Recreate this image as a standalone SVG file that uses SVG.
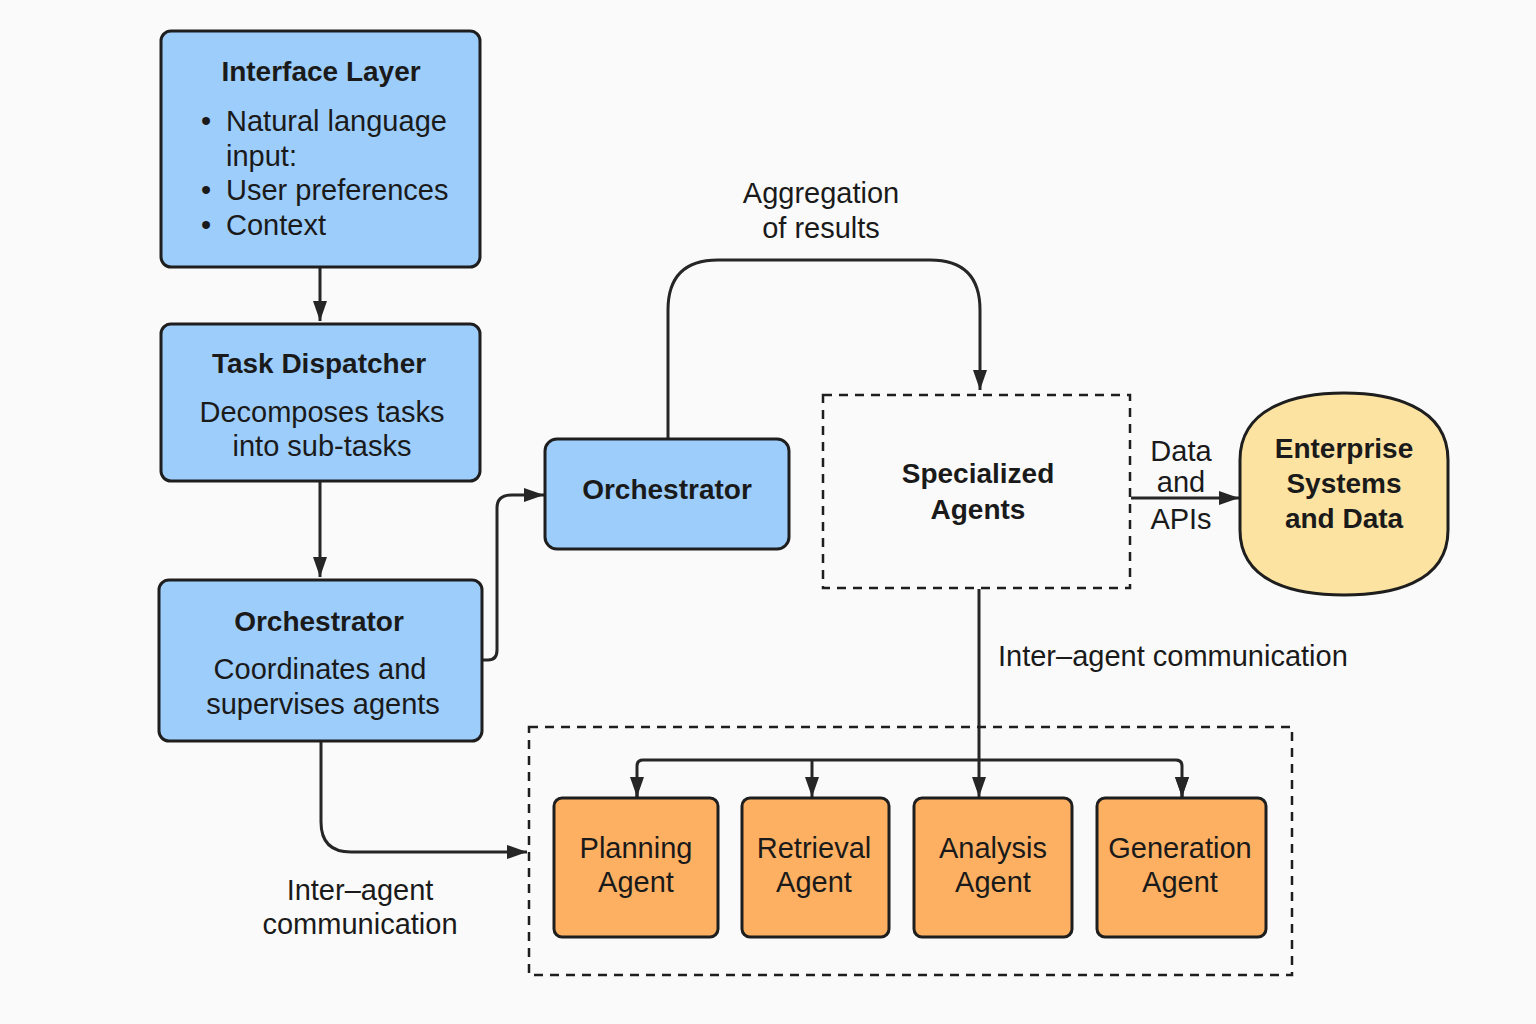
<svg xmlns="http://www.w3.org/2000/svg" width="1536" height="1024" viewBox="0 0 1536 1024">
<defs>
<style>
.blue{fill:#9dcdfb;stroke:#1e1e1e;stroke-width:3}
.orange{fill:#fdb062;stroke:#1e1e1e;stroke-width:3}
.dash{fill:none;stroke:#1e1e1e;stroke-width:2.5;stroke-dasharray:9 7}
.ln{fill:none;stroke:#262626;stroke-width:3}
.t{font-family:"Liberation Sans",Arial,sans-serif;font-size:29px;fill:#1a1a1a}
.b{font-weight:bold;font-size:28px}
.m{text-anchor:middle}
</style>
<marker id="ah2" viewBox="0 0 20 14" refX="20" refY="7" markerWidth="20" markerHeight="14" markerUnits="userSpaceOnUse" orient="auto">
<path d="M0 0 L20 7 L0 14 Z" fill="#262626"/>
</marker>
</defs>
<rect width="1536" height="1024" fill="#fafafa"/>

<g id="connectors">
<path class="ln" d="M320 267 V321" marker-end="url(#ah2)"/>
<path class="ln" d="M320 482 V577" marker-end="url(#ah2)"/>
<path class="ln" d="M483 660 H488 Q497 660 497 650 V508 Q497 495 512 495 H544" marker-end="url(#ah2)"/>
<path class="ln" d="M668 439 V310 Q668 260 718 260 H930 Q980 260 980 310 V390" marker-end="url(#ah2)"/>
<path class="ln" d="M1131 498 H1239" marker-end="url(#ah2)"/>
<path class="ln" d="M979 589 V797" marker-end="url(#ah2)"/>
<path class="ln" d="M637 797 V766 Q637 760 643 760 H1176 Q1182 760 1182 766 V797" marker-end="url(#ah2)"/>
<path class="ln" d="M812 760 V797" marker-end="url(#ah2)"/>
<path class="ln" d="M637 778 V797" marker-end="url(#ah2)"/>
<path class="ln" d="M1182 778 V797" marker-end="url(#ah2)"/>
<path class="ln" stroke="#3a3a3a" d="M321 742 V822 Q321 852 351 852 H527" marker-end="url(#ah2)"/>
<text class="t m" x="821" y="203">Aggregation</text>
<text class="t m" x="821" y="238">of results</text>
<text class="t m" x="1181" y="461">Data</text>
<text class="t m" x="1181" y="492">and</text>
<text class="t m" x="1181" y="529">APIs</text>
<text class="t" x="998" y="666">Inter–agent communication</text>
<text class="t m" x="360" y="900">Inter–agent</text>
<text class="t m" x="360" y="934">communication</text>
</g>

<g id="interface-layer">
<rect class="blue" x="161" y="31" width="319" height="236" rx="10"/>
<text class="t b m" x="321" y="81">Interface Layer</text>
<text class="t" x="201" y="131">•</text><text class="t" x="226" y="131">Natural language</text>
<text class="t" x="226" y="166">input:</text>
<text class="t" x="201" y="200">•</text><text class="t" x="226" y="200">User preferences</text>
<text class="t" x="201" y="235">•</text><text class="t" x="226" y="235">Context</text>
</g>

<g id="task-dispatcher">
<rect class="blue" x="161" y="324" width="319" height="157" rx="10"/>
<text class="t b m" x="319" y="373">Task Dispatcher</text>
<text class="t m" x="322" y="422">Decomposes tasks</text>
<text class="t m" x="322" y="456">into sub-tasks</text>
</g>

<g id="orchestrator-main">
<rect class="blue" x="159" y="580" width="323" height="161" rx="10"/>
<text class="t b m" x="319" y="631">Orchestrator</text>
<text class="t m" x="320" y="679">Coordinates and</text>
<text class="t m" x="323" y="714">supervises agents</text>
</g>

<g id="orchestrator">
<rect class="blue" x="545" y="439" width="244" height="110" rx="12"/>
<text class="t b m" x="667" y="499">Orchestrator</text>
</g>

<g id="specialized-agents">
<rect class="dash" x="823" y="395" width="307" height="193"/>
<text class="t b m" x="978" y="483">Specialized</text>
<text class="t b m" x="978" y="519">Agents</text>
</g>

<g id="enterprise-systems">
<path d="M1240 460 C1240 405 1300 393 1344 393 C1388 393 1448 405 1448 460 V530 C1448 585 1388 595 1344 595 C1300 595 1240 585 1240 530 Z" fill="#fde3a2" stroke="#1e1e1e" stroke-width="3"/>
<text class="t b m" x="1344" y="458">Enterprise</text>
<text class="t b m" x="1344" y="493">Systems</text>
<text class="t b m" x="1344" y="528">and Data</text>
</g>

<g id="agent-group">
<rect class="dash" x="529" y="727" width="763" height="248"/>
</g>

<g id="planning-agent">
<rect class="orange" x="554" y="798" width="164" height="139" rx="8"/>
<text class="t m" x="636" y="858">Planning</text>
<text class="t m" x="636" y="892">Agent</text>
</g>
<g id="retrieval-agent">
<rect class="orange" x="742" y="798" width="147" height="139" rx="8"/>
<text class="t m" x="814" y="858">Retrieval</text>
<text class="t m" x="814" y="892">Agent</text>
</g>
<g id="analysis-agent">
<rect class="orange" x="914" y="798" width="158" height="139" rx="8"/>
<text class="t m" x="993" y="858">Analysis</text>
<text class="t m" x="993" y="892">Agent</text>
</g>
<g id="generation-agent">
<rect class="orange" x="1097" y="798" width="169" height="139" rx="8"/>
<text class="t m" x="1180" y="858">Generation</text>
<text class="t m" x="1180" y="892">Agent</text>
</g>
</svg>
